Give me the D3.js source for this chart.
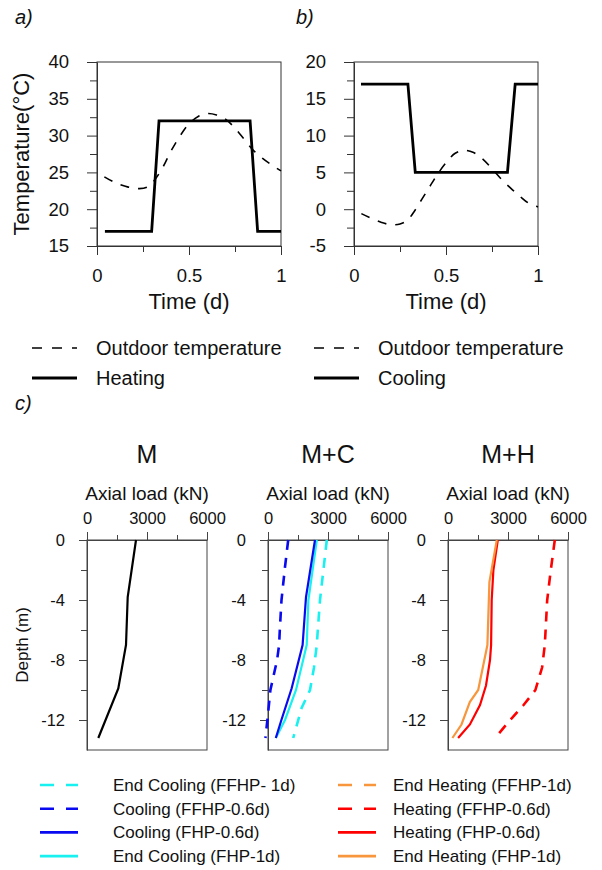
<!DOCTYPE html>
<html>
<head>
<meta charset="utf-8">
<script src="https://cdn.jsdelivr.net/npm/d3@7"></script>
<style>
  body { margin: 0; background: #fff; }
  text { font-family: "Liberation Sans", Arial, sans-serif; fill: #111; }
</style>
</head>
<body>
<div id="chart"></div>
<script>
// ---- panel a / b : daily temperature cycles ----
var timeHeat = [0.043, 0.297, 0.337, 0.832, 0.873, 1.0]
var tempHeat = [17, 17, 32, 32, 17, 17]
var timeOutA = [0.04, 0.1, 0.17, 0.23, 0.28, 0.32, 0.36, 0.4, 0.45, 0.5, 0.55, 0.6, 0.65, 0.7, 0.75, 0.8, 0.85, 0.9, 0.95, 1.0]
var tempOutA = [24.4, 23.6, 23.0, 22.8, 23.1, 24.2, 25.8, 27.8, 29.9, 31.6, 32.6, 33.0, 32.8, 32.2, 31.0, 29.5, 28.0, 26.9, 26.0, 25.2]

var timeCool = [0.038, 0.293, 0.333, 0.834, 0.876, 1.0]
var tempCool = [17, 17, 5, 5, 17, 17]
var timeOutB = [0.04, 0.1, 0.15, 0.2, 0.25, 0.29, 0.33, 0.37, 0.41, 0.45, 0.5, 0.55, 0.6, 0.65, 0.7, 0.75, 0.8, 0.85, 0.9, 0.95, 1.0]
var tempOutB = [-0.6, -1.3, -1.8, -2.1, -2.0, -1.5, -0.2, 1.4, 3.0, 4.6, 6.3, 7.6, 8.0, 7.7, 6.8, 5.5, 4.1, 2.9, 1.8, 0.8, 0.3]

var timeTicks = [0, 0.25, 0.5, 0.75, 1]
var timeLabels = ["0", "", "0.5", "", "1"]

// ---- panel c : axial load profiles (kN) vs depth (m) ----
var depthM = [0, -3.8, -7, -9.9, -13.2]
var loadM = [2450, 2035, 1950, 1565, 565]

var depthCoolFHP = [0, -3.8, -7, -9.9, -12, -13.2]
var loadCoolFHP = [2350, 1900, 1730, 1180, 670, 390]
var depthEndCoolFHP = [0, -4, -7, -10, -12, -13.2]
var loadEndCoolFHP = [2440, 2020, 1935, 1400, 850, 390]
var depthEndCoolFFHP = [0, -2, -4, -6, -7, -8.5, -10, -11.2, -13.2]
var loadEndCoolFFHP = [2940, 2770, 2600, 2490, 2440, 2300, 2100, 1680, 1260]
var depthCoolFFHP = [0, -1.8, -4, -6, -7, -8, -10, -12, -13.2]
var loadCoolFFHP = [1010, 850, 675, 590, 555, 455, 120, -30, -130]

var depthEndHeatFHP = [0, -2.8, -7, -10, -10.8, -12.3, -13.2]
var loadEndHeatFHP = [2440, 2070, 1970, 1510, 1090, 675, 220]
var depthHeatFHP = [0, -2, -4, -7, -8, -9.7, -11, -12.3, -13.2]
var loadHeatFHP = [2490, 2270, 2185, 2155, 2100, 1900, 1600, 1095, 505]
var depthHeatFFHP = [0, -2, -4, -7, -8.5, -10, -11, -12, -13.2]
var loadHeatFFHP = [5340, 5140, 4960, 4840, 4705, 4370, 3780, 3110, 2355]

var loadTicks = [0, 1500, 3000, 4500, 6000]
var loadLabels = ["0", "", "3000", "", "6000"]
var depthTicks = [0, -2, -4, -6, -8, -10, -12]
var depthLabels = ["0", "", "-4", "", "-8", "", "-12"]

var colors = {
  black: "#000",
  cyan: "#19f0f0",
  blue: "#0a0af0",
  red: "#ff0000",
  orange: "#f7963c"
}

var W = 602, H = 870
var svg = d3.select("#chart").append("svg").attr("width", W).attr("height", H)
svg.append("rect").attr("width", W).attr("height", H).attr("fill", "#fff")

function zip(xs, ys) {
  return xs.map(function(v, i) { return [v, ys[i]] })
}

function tempPanel(left, yDomain, yTickVals, series) {
  var top = 62, w = 184, h = 184
  var x = d3.scaleLinear().domain([0, 1]).range([left, left + w])
  var y = d3.scaleLinear().domain(yDomain).range([top + h, top])

  svg.append("rect").attr("x", left).attr("y", top).attr("width", w).attr("height", h)
    .attr("fill", "none").attr("stroke", "#333").attr("stroke-width", 1)

  var ya = svg.append("g").attr("transform", "translate(" + left + ",0)")
    .call(d3.axisLeft(y).tickValues(yTickVals).tickSize(10).tickPadding(18).tickSizeOuter(0)
      .tickFormat(function(d) { return d % 5 == 0 ? d : "" }))
  ya.selectAll("line").attr("x2", function(d) { return d % 5 == 0 ? -10 : -7 })
  var xa = svg.append("g").attr("transform", "translate(0," + (top + h) + ")")
    .call(d3.axisBottom(x).tickValues(timeTicks).tickSize(9).tickPadding(14).tickSizeOuter(0)
      .tickFormat(function(d, i) { return timeLabels[i] }))
  xa.selectAll("line").attr("y2", function(d, i) { return timeLabels[i] ? 9 : 6 })
  ;[ya, xa].forEach(function(a) {
    a.select(".domain").attr("stroke", "#333")
    a.selectAll("line").attr("stroke", "#333")
    a.selectAll("text").attr("font-size", 18.5).attr("fill", "#111")
      .style("font-family", "Liberation Sans, Arial, sans-serif")
  })

  var line = d3.line().x(function(d) { return x(d[0]) }).y(function(d) { return y(d[1]) })
  var curve = d3.line().curve(d3.curveCatmullRom).x(function(d) { return x(d[0]) }).y(function(d) { return y(d[1]) })
  series.forEach(function(s) {
    svg.append("path").datum(s.pts)
      .attr("d", s.smooth ? curve : line)
      .attr("fill", "none").attr("stroke", "#000")
      .attr("stroke-width", s.width)
      .attr("stroke-dasharray", s.dash || null)
  })

  svg.append("text").attr("x", left + w / 2).attr("y", 309)
    .attr("text-anchor", "middle").attr("font-size", 22).text("Time (d)")
}

tempPanel(97, [15, 40], d3.range(15, 40.1, 2.5), [
  { pts: zip(timeOutA, tempOutA), smooth: true, width: 1.6, dash: "9,9" },
  { pts: zip(timeHeat, tempHeat), width: 2.8 }
])
tempPanel(354, [-5, 20], d3.range(-5, 20.1, 2.5), [
  { pts: zip(timeOutB, tempOutB), smooth: true, width: 1.6, dash: "9,9" },
  { pts: zip(timeCool, tempCool), width: 2.8 }
])

svg.append("text").attr("x", 15).attr("y", 24).attr("font-size", 20).attr("font-style", "italic").text("a)")
svg.append("text").attr("x", 296).attr("y", 24).attr("font-size", 20).attr("font-style", "italic").text("b)")
svg.append("text").attr("transform", "translate(29,154) rotate(-90)")
  .attr("text-anchor", "middle").attr("font-size", 22).text("Temperature(°C)")

// legend for a / b
var legTop = [
  { x: 32, y: 348, dash: "10,10", w: 1.6, label: "Outdoor temperature" },
  { x: 32, y: 378, dash: null, w: 2.8, label: "Heating" },
  { x: 314, y: 348, dash: "10,10", w: 1.6, label: "Outdoor temperature" },
  { x: 314, y: 378, dash: null, w: 2.8, label: "Cooling" }
]
legTop.forEach(function(d) {
  svg.append("line").attr("x1", d.x).attr("x2", d.x + 45).attr("y1", d.y).attr("y2", d.y)
    .attr("stroke", "#000").attr("stroke-width", d.w).attr("stroke-dasharray", d.dash)
  svg.append("text").attr("x", d.x + 64).attr("y", d.y + 7).attr("font-size", 20).text(d.label)
})

// ---- panel c ----
svg.append("text").attr("x", 15).attr("y", 410).attr("font-size", 20).attr("font-style", "italic").text("c)")

function loadPanel(left, title, series) {
  var top = 540, w = 120, h = 210
  var x = d3.scaleLinear().domain([0, 6000]).range([left, left + w])
  var y = d3.scaleLinear().domain([0, -14]).range([top, top + h])

  svg.append("rect").attr("x", left).attr("y", top).attr("width", w).attr("height", h)
    .attr("fill", "none").attr("stroke", "#444").attr("stroke-width", 1)

  var xa = svg.append("g").attr("transform", "translate(0," + top + ")")
    .call(d3.axisTop(x).tickValues(loadTicks).tickSize(8).tickPadding(8).tickSizeOuter(0)
      .tickFormat(function(d, i) { return loadLabels[i] }))
  xa.selectAll("line").attr("y2", function(d, i) { return loadLabels[i] ? -8 : -5 })
  var ya = svg.append("g").attr("transform", "translate(" + left + ",0)")
    .call(d3.axisLeft(y).tickValues(depthTicks).tickSize(8).tickPadding(14).tickSizeOuter(0)
      .tickFormat(function(d, i) { return depthLabels[i] }))
  ya.selectAll("line").attr("x2", function(d, i) { return depthLabels[i] ? -8 : -6 })
  ;[ya, xa].forEach(function(a) {
    a.select(".domain").attr("stroke", "#444")
    a.selectAll("line").attr("stroke", "#444")
    a.selectAll("text").attr("font-size", 16.5).attr("fill", "#111")
      .style("font-family", "Liberation Sans, Arial, sans-serif")
  })

  var line = d3.line().x(function(d) { return x(d[1]) }).y(function(d) { return y(d[0]) })
  series.forEach(function(s) {
    svg.append("path").datum(zip(s.depth, s.load))
      .attr("d", line)
      .attr("fill", "none").attr("stroke", s.color)
      .attr("stroke-width", s.dash ? 2.6 : 2.2)
      .attr("stroke-dasharray", s.dash || null)
  })

  svg.append("text").attr("x", left + w / 2).attr("y", 500)
    .attr("text-anchor", "middle").attr("font-size", 19).text("Axial load (kN)")
  svg.append("text").attr("x", left + w / 2).attr("y", 463)
    .attr("text-anchor", "middle").attr("font-size", 25).text(title)
}

loadPanel(87, "M", [
  { depth: depthM, load: loadM, color: colors.black }
])
loadPanel(268, "M+C", [
  { depth: depthEndCoolFFHP, load: loadEndCoolFFHP, color: colors.cyan, dash: "10,8" },
  { depth: depthCoolFFHP, load: loadCoolFFHP, color: colors.blue, dash: "10,8" },
  { depth: depthEndCoolFHP, load: loadEndCoolFHP, color: colors.cyan },
  { depth: depthCoolFHP, load: loadCoolFHP, color: colors.blue }
])
loadPanel(448, "M+H", [
  { depth: depthHeatFFHP, load: loadHeatFFHP, color: colors.red, dash: "10,8" },
  { depth: depthHeatFHP, load: loadHeatFHP, color: colors.red },
  { depth: depthEndHeatFHP, load: loadEndHeatFHP, color: colors.orange }
])

svg.append("text").attr("transform", "translate(28,645) rotate(-90)")
  .attr("text-anchor", "middle").attr("font-size", 17).text("Depth (m)")

// legend for c
var legBottom = [
  { col: 0, color: colors.cyan, dash: "14,12", label: "End Cooling (FFHP- 1d)" },
  { col: 0, color: colors.blue, dash: "14,12", label: "Cooling (FFHP-0.6d)" },
  { col: 0, color: colors.blue, dash: null, label: "Cooling (FHP-0.6d)" },
  { col: 0, color: colors.cyan, dash: null, label: "End Cooling (FHP-1d)" },
  { col: 1, color: colors.orange, dash: "14,12", label: "End Heating (FFHP-1d)" },
  { col: 1, color: colors.red, dash: "14,12", label: "Heating (FFHP-0.6d)" },
  { col: 1, color: colors.red, dash: null, label: "Heating (FHP-0.6d)" },
  { col: 1, color: colors.orange, dash: null, label: "End Heating (FHP-1d)" }
]
var legX = [40, 338], legY0 = 785, legDy = 23.7
legBottom.forEach(function(d, i) {
  var yy = legY0 + (i % 4) * legDy
  svg.append("line").attr("x1", legX[d.col]).attr("x2", legX[d.col] + 38).attr("y1", yy).attr("y2", yy)
    .attr("stroke", d.color).attr("stroke-width", 2.6).attr("stroke-dasharray", d.dash)
  svg.append("text").attr("x", legX[d.col] + (d.col ? 55 : 73)).attr("y", yy + 6).attr("font-size", 17).text(d.label)
})
</script>
</body>
</html>
